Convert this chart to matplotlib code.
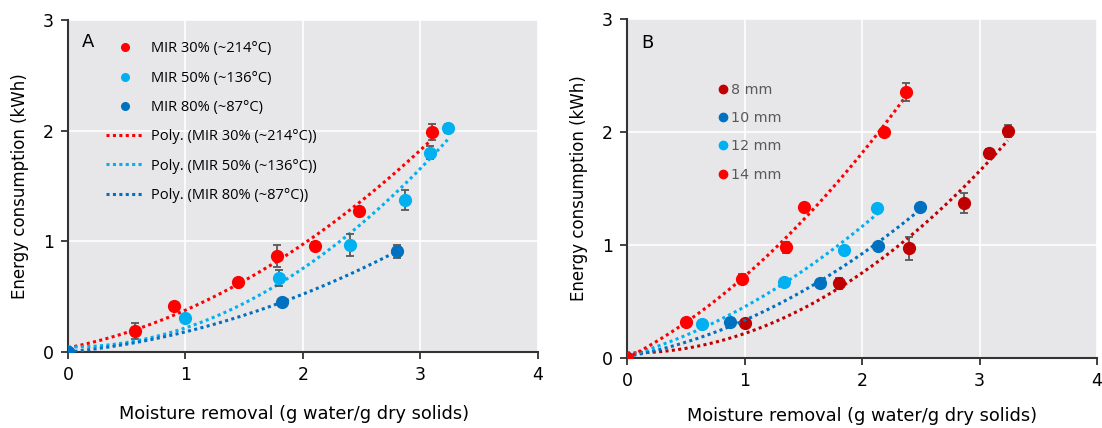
import numpy as np
import matplotlib.pyplot as plt

# ---- panel A : MIR power level ----
mir_labels = ["MIR 30% (~214°C)", "MIR 50% (~136°C)", "MIR 80% (~87°C)"]
mir30_x = [0, 0.57, 0.90, 1.45, 1.78, 2.10, 2.48, 3.10]
mir30_y = [0, 0.19, 0.42, 0.63, 0.87, 0.96, 1.27, 1.99]
mir30_err = [0, 0.07, 0.02, 0.02, 0.10, 0.03, 0.02, 0.07]
mir50_x = [0, 1.00, 1.80, 2.40, 2.87, 3.08, 3.23]
mir50_y = [0, 0.31, 0.67, 0.97, 1.37, 1.80, 2.02]
mir50_err = [0, 0.02, 0.07, 0.10, 0.09, 0.06, 0.04]
mir80_x = [0, 1.82, 2.80]
mir80_y = [0, 0.45, 0.91]
mir80_err = [0, 0.02, 0.06]

# ---- panel B : slice thickness ----
mm_labels = ["8 mm", "10 mm", "12 mm", "14 mm"]
mm8_x = [0, 1.00, 1.80, 2.40, 2.87, 3.08, 3.24]
mm8_y = [0, 0.31, 0.66, 0.97, 1.37, 1.81, 2.01]
mm8_err = [0, 0.02, 0.05, 0.10, 0.09, 0.04, 0.05]
mm10_x = [0, 0.88, 1.64, 2.14, 2.49]
mm10_y = [0, 0.32, 0.66, 0.99, 1.34]
mm10_err = [0, 0.02, 0.02, 0.02, 0.02]
mm12_x = [0, 0.64, 1.34, 1.85, 2.13]
mm12_y = [0, 0.30, 0.67, 0.96, 1.33]
mm12_err = [0, 0.02, 0.03, 0.02, 0.02]
mm14_x = [0, 0.50, 0.98, 1.35, 1.51, 2.19, 2.37]
mm14_y = [0, 0.32, 0.70, 0.98, 1.34, 2.00, 2.35]
mm14_err = [0, 0.02, 0.04, 0.05, 0.02, 0.02, 0.08]

RED = "#ff0000"
LBLUE = "#00b0f0"
DBLUE = "#0070c0"
DRED = "#c00000"
BG = "#e7e7e9"

plt.rcParams["font.family"] = ["DejaVu Sans"]

fig = plt.figure(figsize=(11.02, 4.28), dpi=100)
axA = fig.add_axes([0.0617, 0.1776, 0.4265, 0.7757])
axB = fig.add_axes([0.569, 0.1636, 0.4265, 0.792])


def style_axis(ax, xlab_pos):
    ax.set_facecolor(BG)
    ax.set_xlim(0, 4)
    ax.set_ylim(0, 3)
    ax.set_xticks([0, 1, 2, 3, 4])
    ax.set_yticks([0, 1, 2, 3])
    ax.grid(True, color="white", lw=1.2)
    ax.set_axisbelow(True)
    ax.spines["right"].set_visible(False)
    ax.spines["top"].set_visible(False)
    for s in ["left", "bottom"]:
        ax.spines[s].set_color("#333333")
        ax.spines[s].set_linewidth(1.5)
    ax.tick_params(direction="out", length=5, width=1.3, color="#333333",
                   labelsize=12.5, pad=5)
    ax.set_xlabel("Moisture removal (g water/g dry solids)", fontsize=12.8)
    ax.xaxis.set_label_coords(*xlab_pos)
    ax.set_ylabel("Energy consumption (kWh)", fontsize=12, labelpad=10)


def draw_series(ax, x, y, err, color, z):
    x = np.array(x)
    y = np.array(y)
    coef = np.polyfit(x, y, 2)
    xs = np.linspace(x.min(), x.max(), 100)
    line, = ax.plot(xs, np.polyval(coef, xs), ls=(0, (1, 1.1)), lw=2.2,
                    color=color, zorder=z)
    ax.errorbar(x, y, yerr=err, fmt="none", ecolor="#595959", elinewidth=1.3,
                capsize=3, capthick=1.3, zorder=z + 0.5)
    pts, = ax.plot(x, y, "o", ms=8.5, color=color, mec=color, zorder=z + 1)
    return pts, line


style_axis(axA, (0.48, -0.16))
style_axis(axB, (0.5, -0.145))

# panel A
pA1, lA1 = draw_series(axA, mir30_x, mir30_y, mir30_err, RED, 3)
pA2, lA2 = draw_series(axA, mir50_x, mir50_y, mir50_err, LBLUE, 5)
pA3, lA3 = draw_series(axA, mir80_x, mir80_y, mir80_err, DBLUE, 7)
axA.text(0.03, 0.935, "A", transform=axA.transAxes, fontsize=13, va="center")
handles = [pA1, pA2, pA3, lA1, lA2, lA3]
labels = mir_labels + ["Poly. (" + t + ")" for t in mir_labels]
legA = axA.legend(handles, labels, loc="upper left", bbox_to_anchor=(0.052, 0.975),
                  frameon=False, handlelength=2.6, handletextpad=0.55,
                  labelspacing=0.98, prop={"family": "Open Sans", "size": 10.5})
for h in legA.legend_handles[:3]:
    h.set_markersize(5.5)

# panel B
pB1, _ = draw_series(axB, mm8_x, mm8_y, mm8_err, DRED, 3)
pB2, _ = draw_series(axB, mm10_x, mm10_y, mm10_err, DBLUE, 5)
pB3, _ = draw_series(axB, mm12_x, mm12_y, mm12_err, LBLUE, 7)
pB4, _ = draw_series(axB, mm14_x, mm14_y, mm14_err, RED, 9)
axB.text(0.03, 0.93, "B", transform=axB.transAxes, fontsize=13, va="center")
legB = axB.legend([pB1, pB2, pB3, pB4], mm_labels, loc="upper left",
                  bbox_to_anchor=(0.168, 0.85), frameon=False, handlelength=0.6,
                  handletextpad=0.25, labelspacing=1.0,
                  prop={"family": "DejaVu Sans", "size": 10.3})
for h in legB.legend_handles:
    h.set_markersize(6)
for t in legB.get_texts():
    t.set_color("#595959")

fig.savefig("out.png", dpi=100)
